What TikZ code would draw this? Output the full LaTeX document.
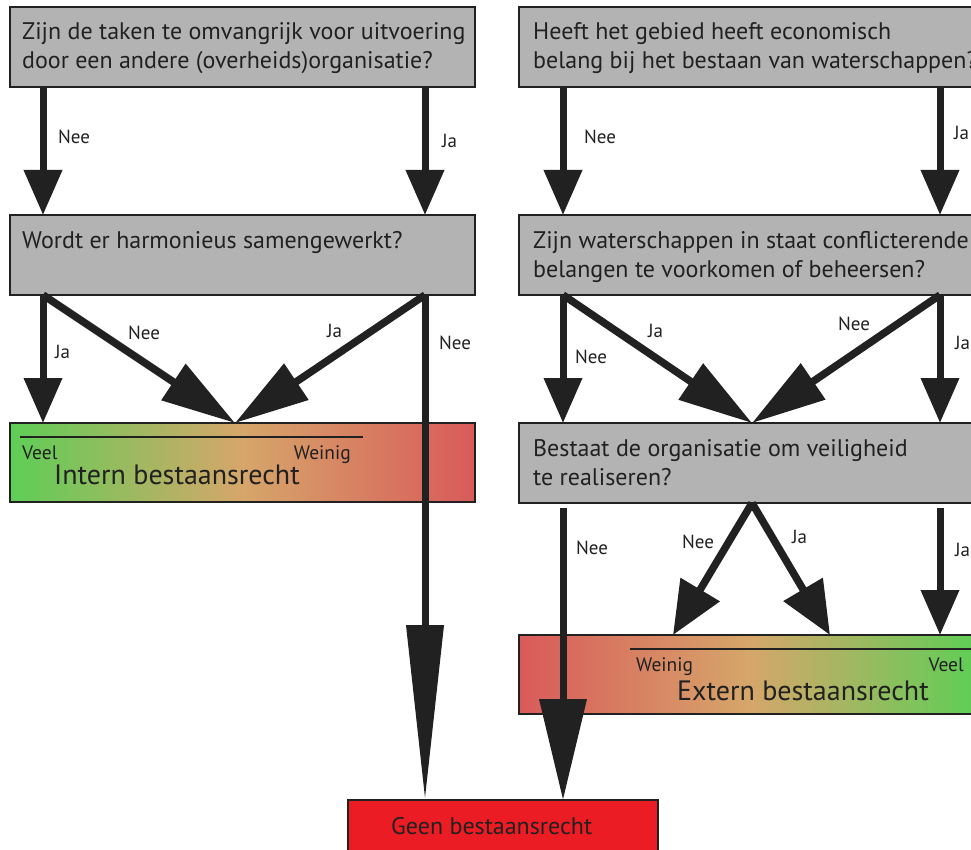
\documentclass[tikz,border=0pt]{standalone}
\usepackage{fontspec}
\setmainfont{PT Sans}
\usetikzlibrary{arrows.meta,calc}
\definecolor{boxgray}{RGB}{179,179,179}
\definecolor{ink}{RGB}{33,33,33}
\definecolor{gGreen}{RGB}{94,206,86}
\definecolor{gOrange}{RGB}{214,166,106}
\definecolor{gRed}{RGB}{217,90,90}
\definecolor{geenred}{RGB}{236,28,36}
\begin{document}
\begin{tikzpicture}[x=1pt,y=-1pt,
  qbox/.style={draw=ink, line width=1.5pt, fill=boxgray, inner sep=0pt, outer sep=0pt, anchor=north west, minimum height=80pt},
  gbox/.style={draw=ink, line width=1.5pt, inner sep=0pt, outer sep=0pt, anchor=north west, minimum height=79pt},
  qtext/.style={anchor=base west, inner sep=0pt, text=ink, font=\fontsize{24}{28}\selectfont},
  lab/.style={anchor=west, inner sep=0pt, text=ink, font=\fontsize{19}{22}\selectfont},
  sm/.style={anchor=base west, inner sep=0pt, text=ink, font=\fontsize{19.5}{22}\selectfont},
  big/.style={anchor=base west, inner sep=0pt, text=ink, font=\fontsize{28}{32}\selectfont},
  arr/.style={draw=ink, line width=7pt, -{Triangle[length=45pt,width=37pt]}},
  darr/.style={draw=ink, line width=7.5pt, -{Triangle[length=74pt,width=42pt]}},
  varr/.style={draw=ink, line width=7.5pt, -{Triangle[length=53pt,width=44pt]}}
]
\useasboundingbox (0,0) rectangle (971,850);

% boxes
\node[qbox, minimum width=465pt] (q1) at (10,7) {};
\node[qbox, minimum width=470pt] (q2) at (519,7) {};
\node[qbox, minimum width=465pt] (q3) at (10,215) {};
\node[qbox, minimum width=470pt] (q4) at (519,215) {};
\node[gbox, minimum width=465pt, left color=gGreen, right color=gRed, middle color=gOrange] (intern) at (10,423) {};
\node[qbox, minimum width=470pt] (q5) at (519,423) {};
\node[gbox, minimum width=459pt, left color=gRed, right color=gGreen, middle color=gOrange] (extern) at (519,635) {};
\node[gbox, minimum width=310pt, minimum height=70pt, fill=geenred] (geen) at (348,800) {};

% question texts
\node[qtext] (t1a) at (22,40) {Zijn de taken te omvangrijk voor uitvoering};
\node[qtext] (t1b) at (22,69) {door een andere (overheids)organisatie?};
\node[qtext] (t2a) at (533,40) {Heeft het gebied heeft economisch};
\node[qtext] (t2b) at (533,69) {belang bij het bestaan van waterschappen?};
\node[qtext] (t3a) at (22,248) {Wordt er harmonieus samengewerkt?};
\node[qtext] (t4a) at (533,248) {Zijn waterschappen in staat conflicterende};
\node[qtext] (t4b) at (533,277) {belangen te voorkomen of beheersen?};
\node[qtext] (t5a) at (533,456) {Bestaat de organisatie om veiligheid};
\node[qtext] (t5b) at (533,485) {te realiseren?};

% scales
\draw[ink, line width=2pt] ($(intern.north west)+(10,14)$) coordinate (il1) -- ($(intern.north west)+(353,14)$) coordinate (il2);
\node[sm] (iveel) at (22,459) {Veel};
\node[sm, anchor=base east] (iweinig) at (351,459) {Weinig};
\node[big] (intt) at (54,484) {Intern bestaansrecht};

\draw[ink, line width=2pt] ($(extern.north west)+(111,14)$) coordinate (el1) -- ($(extern.north east)+(10,14)$) coordinate (el2);
\node[sm] (eweinig) at (636,671) {Weinig};
\node[sm, anchor=base east] (eveel) at (964,671) {Veel};
\node[big] (extt) at (677,700) {Extern bestaansrecht};

\node[anchor=base west, inner sep=0pt, text=ink, font=\fontsize{24}{28}\selectfont] (geent) at (391,834) {Geen bestaansrecht};

% arrows q1 -> q3
\draw[arr] ($(q1.south west)+(33,0)$) -- ($(q3.north west)+(33,0)$);
\draw[arr] ($(q1.south west)+(415,0)$) -- ($(q3.north west)+(415,0)$);
\node[lab] (l1) at (58,137) {Nee};
\node[lab] (l2) at (442,141) {Ja};
% arrows q2 -> q4
\draw[arr] ($(q2.south west)+(44,0)$) -- ($(q4.north west)+(44,0)$);
\draw[arr] ($(q2.south west)+(421,0)$) -- ($(q4.north west)+(421,0)$);
\node[lab] (l3) at (584,137) {Nee};
\node[lab] (l4) at (954,133) {Ja};

% arrows from q3
\draw[arr] ($(q3.south west)+(33,0)$) -- ($(intern.north west)+(33,0)$);
\draw[darr] ($(q3.south west)+(33,0)$) -- ($(intern.north west)+(225,0)$);
\draw[darr] ($(q3.south west)+(415,0)$) -- ($(intern.north west)+(225,0)$);
\draw[draw=ink, line width=7pt, -{Triangle[length=175pt,width=36pt]}] ($(q3.south west)+(415,0)$) -- ($(geen.north west)+(77,0)$);
\node[lab] (l5) at (55,352) {Ja};
\node[lab] (l6) at (128,333) {Nee};
\node[lab] (l7) at (327,331) {Ja};
\node[lab] (l8) at (439,343) {Nee};

% arrows from q4
\draw[arr] ($(q4.south west)+(44,0)$) -- ($(q5.north west)+(44,0)$);
\draw[darr] ($(q4.south west)+(44,0)$) -- ($(q5.north west)+(233,0)$);
\draw[darr] ($(q4.south west)+(421,0)$) -- ($(q5.north west)+(233,0)$);
\draw[arr] ($(q4.south west)+(421,0)$) -- ($(q5.north west)+(421,0)$);
\node[lab] (l9) at (575,357) {Nee};
\node[lab] (l10) at (648,331) {Ja};
\node[lab] (l11) at (838,324) {Nee};
\node[lab] (l12) at (955,343) {Ja};

% arrows from q5
\draw[varr] ($(q5.south west)+(233,0)$) -- ($(extern.north west)+(154,0)$);
\draw[varr] ($(q5.south west)+(233,0)$) -- ($(extern.north west)+(311,0)$);
\draw[arr] ($(q5.south west)+(421,5)$) -- ($(extern.north west)+(421,0)$);
\draw[draw=ink, line width=7pt, -{Triangle[length=101pt,width=46pt]}] ($(q5.south west)+(44,5)$) -- ($(geen.north west)+(215,0)$);
\node[lab] (l13) at (576,548) {Nee};
\node[lab] (l14) at (682,542) {Nee};
\node[lab] (l15) at (792,537) {Ja};
\node[lab] (l16) at (955,550) {Ja};
\end{tikzpicture}
\end{document}
